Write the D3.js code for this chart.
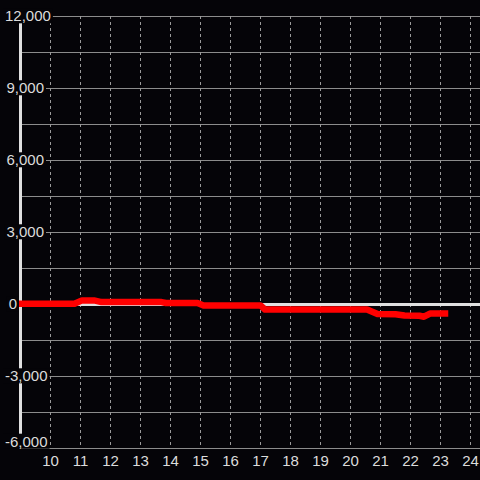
<!DOCTYPE html>
<html>
<head>
<meta charset="utf-8">
<script src="https://cdn.jsdelivr.net/npm/d3@7/dist/d3.min.js"></script>
<style>
  html, body { margin: 0; padding: 0; background: #050408; }
  svg { display: block; }
  text { font-family: "Liberation Sans", Arial, sans-serif; fill: #dcdcdc; }
</style>
</head>
<body>
<svg id="chart" width="480" height="480"></svg>
<script>
// hours of the day and the running value
const hours  = [9, 10.8, 11.05, 11.45, 11.7, 13.7, 13.85, 14.9, 15.1, 17.0, 17.15, 20.55, 20.9, 21.5, 21.8, 22.3, 22.45, 22.65, 23.15];
const values = [10, 10, 150, 150, 80, 80, 40, 40, -60, -60, -230, -230, -420, -430, -480, -490, -530, -400, -400];

const xTicks = [10, 11, 12, 13, 14, 15, 16, 17, 18, 19, 20, 21, 22, 23, 24];
const yTicks = [-6000, -3000, 0, 3000, 6000, 9000, 12000];
const yGrid  = d3.range(-6000, 12001, 1500);

const svg = d3.select("#chart");
const W = 480, H = 480;

const x = d3.scaleLinear().domain([9, 25]).range([20.5, 500.5]);
const y = d3.scaleLinear().domain([-6000, 12000]).range([448, 16]);

svg.append("rect").attr("width", W).attr("height", H).attr("fill", "#050408");

// horizontal grid
svg.append("g").selectAll("line").data(yGrid).join("line")
  .attr("x1", x(9)).attr("x2", W)
  .attr("y1", d => Math.round(y(d)) + 0.5).attr("y2", d => Math.round(y(d)) + 0.5)
  .attr("stroke", "#8c8c8c").attr("stroke-width", 1);

// vertical dashed grid
svg.append("g").selectAll("line").data(xTicks).join("line")
  .attr("x1", d => x(d)).attr("x2", d => x(d))
  .attr("y1", y(12000)).attr("y2", y(-6000))
  .attr("stroke", "#9a9a9a").attr("stroke-width", 1)
  .attr("stroke-dasharray", "3,3");

// zero line
svg.append("line")
  .attr("x1", x(9)).attr("x2", W)
  .attr("y1", y(0) + 0.5).attr("y2", y(0) + 0.5)
  .attr("stroke", "#e0e0e0").attr("stroke-width", 3);

// y axis line
svg.append("line")
  .attr("x1", x(9)).attr("x2", x(9))
  .attr("y1", y(12000)).attr("y2", y(-6000))
  .attr("stroke", "#e0e0e0").attr("stroke-width", 3);

// the series
const line = d3.line().x((d, i) => x(hours[i])).y(d => y(d));
svg.append("path")
  .attr("d", line(values))
  .attr("fill", "none")
  .attr("stroke", "#ff0000")
  .attr("stroke-width", 6.5)
  .attr("stroke-linecap", "square")
  .attr("stroke-linejoin", "round");

// y labels, with a black box behind them
const fmt = d3.format(",");
const yLab = svg.append("g");
yTicks.forEach(v => {
  const g = yLab.append("g");
  const bg = g.append("rect").attr("fill", "#050408");
  // keep the lowest label above the bottom grid line
  const base = Math.min(y(v) + 5.3, 446.7);
  const t = g.append("text")
    .attr("y", base)
    .attr("font-size", 15)
    .attr("text-anchor", "start")
    .text(fmt(v).replace("−", "-"));
  const w = t.node().getComputedTextLength();
  let left = v === 0 ? 17 - w : 44 - w;
  if (left < 5) left = 5;
  t.attr("x", left);
  const b = t.node().getBBox();
  bg.attr("x", b.x - 2).attr("y", b.y + 1).attr("width", b.width + 4).attr("height", b.height - 2);
});

// x labels
svg.append("g").selectAll("text").data(xTicks).join("text")
  .attr("x", d => x(d))
  .attr("y", 466)
  .attr("font-size", 15)
  .attr("text-anchor", "middle")
  .text(d => d);
</script>
</body>
</html>
